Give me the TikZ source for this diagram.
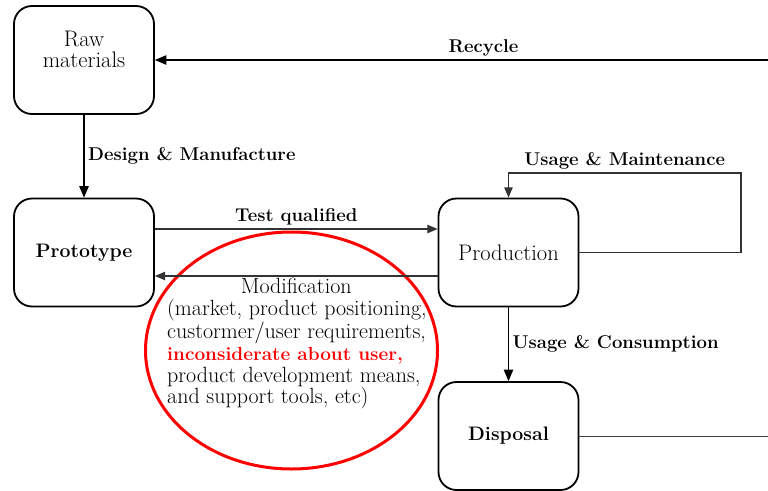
\documentclass[tikz,border=0pt]{standalone}
\usetikzlibrary{shapes.geometric, arrows}
\tikzstyle{stage} = [rectangle, draw, line width=1.8pt, rounded corners=18pt, minimum width=140pt, minimum height=108pt, align=center, font=\fontsize{22.5}{21.5}\selectfont]
\tikzstyle{arrow} = [line width=1.7pt,->,>=triangle 45]
\tikzstyle{thinarrow} = [line width=1.4pt,black!80,->,>=triangle 45]
\tikzstyle{lbl} = [font=\fontsize{18.5}{21}\selectfont\bfseries, text=black]
\newcommand{\lst}{\fontsize{22}{21.7}\selectfont}
\newcommand{\bst}{\fontsize{19.5}{21}\selectfont\bfseries}

\begin{document}
\begin{tikzpicture}[x=1pt, y=-1pt]
                \useasboundingbox (0,0) rectangle (768,490);
                \node (raw) [stage] at (84,60) {Raw\\materials\\\mbox{}};
                \node (proto) [stage] at (84,252.5) {\bst Prototype};
                \node (prod) [stage] at (508.5,252.5) {Production};
                \node (disp) [stage] at (508.5,436) {\bst Disposal};
                \coordinate (recyc) at (768,60);
                \coordinate (loop) at (741,173);
                \coordinate (dispout) at (768,436);
                \node (ring) [ellipse, draw=red, line width=3pt, minimum width=292pt, minimum height=237pt] at (291.5,350.5) {};

                \draw [arrow] (recyc) -- (raw) node[lbl, pos=0.464, above] {Recycle};
                \draw [arrow] (raw) -- (proto) node[lbl, midway, right] {Design \& Manufacture};
                \draw [thinarrow] ([yshift=23.5pt]proto.east) -- ([yshift=23.5pt]prod.west) node[lbl, midway, above] {Test qualified};
                \draw [thinarrow] ([yshift=-23.5pt]prod.west) -- ([yshift=-23.5pt]proto.east) node[midway, below, inner sep=1pt, text=black, font=\lst] (modlbl) {Modification};
                \node (modtext) [anchor=north west, inner sep=0pt, align=left, font=\lst] at (167,299) {(market, product positioning,\\custormer/user requirements,\\{\color{red}\fontsize{19}{21.7}\selectfont\bfseries inconsiderate about user,}\\product development means,\\and support tools, etc)};
                \draw [thinarrow] (prod.east) -| (loop) -| (prod.north) node[lbl, pos=0.25, above] {Usage \& Maintenance};
                \draw [arrow] (prod) -- (disp) node[lbl, midway, right] {Usage \& Consumption};
                \draw [line width=1pt, black!75] (disp.east) -- (dispout);
            \end{tikzpicture}
\end{document}
